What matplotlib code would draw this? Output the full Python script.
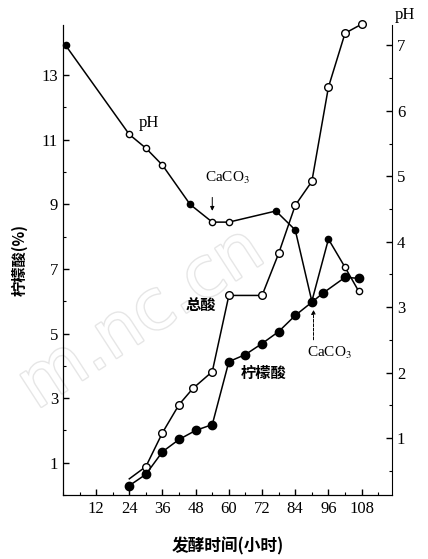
import matplotlib.pyplot as plt
import matplotlib.patheffects as pe
from matplotlib.ticker import MultipleLocator

plt.rcParams['font.family'] = ['Liberation Serif', 'Noto Sans CJK SC', 'DejaVu Sans']
plt.rcParams['mathtext.fontset'] = 'stix'

CJK = ['Noto Sans CJK SC', 'DejaVu Sans']

# total acid (%), open circles; first point is the line start without a marker
acid_t = [24, 30, 36, 42, 47, 54, 60, 72, 78, 84, 90, 96, 102, 108]
acid_v = [0.5, 0.88, 1.93, 2.80, 3.30, 3.82, 6.18, 6.18, 7.48, 8.97, 9.71, 12.63, 14.30, 14.58]

# citric acid (%), filled circles
citric_t = [24, 30, 36, 42, 48, 54, 60, 66, 72, 78, 84, 90, 94, 102, 107]
citric_v = [0.29, 0.64, 1.34, 1.72, 2.0, 2.18, 4.13, 4.35, 4.69, 5.06, 5.56, 5.97, 6.25, 6.74, 6.71]

# pH, mixed markers
ph_t = [1, 24, 30, 36, 46, 54, 60, 77, 84, 90, 96, 102, 107]
ph_v = [7.0, 5.64, 5.43, 5.17, 4.57, 4.30, 4.30, 4.47, 4.18, 3.09, 4.04, 3.61, 3.24]
ph_filled = [True, False, False, False, True, False, False, True, True, True, True, False, False]

fig = plt.figure(figsize=(4.28, 5.59), dpi=100)
ax = fig.add_axes([0.147, 0.1145, 0.769, 0.8405])
ax2 = ax.twinx()

ax.set_xlim(0, 119)
ax.set_ylim(0, 14.55)
ax2.set_ylim(0.13, 7.31)

# faint watermark behind everything
fig.text(0.33, 0.43, 'm.nc.cn', fontsize=50, rotation=33, ha='center', va='center',
         color='white', family='DejaVu Sans', zorder=-5,
         path_effects=[pe.withStroke(linewidth=2, foreground='#e6e6e6')])

# total acid
ax.plot(acid_t, acid_v, color='black', lw=1.1, zorder=3)
ax.plot(acid_t[1:], acid_v[1:], ls='none', marker='o', ms=5.5, mfc='white',
        mec='black', mew=1.0, zorder=4, clip_on=False)

# citric acid
ax.plot(citric_t, citric_v, color='black', lw=1.1, marker='o', ms=6, mfc='black',
        mec='black', zorder=4)

# pH
ax2.plot(ph_t, ph_v, color='black', lw=1.1, zorder=3)
for t, v, f in zip(ph_t, ph_v, ph_filled):
    ax2.plot(t, v, marker='o', ms=4.5, mfc='black' if f else 'white', mec='black',
             mew=1.0, zorder=4, clip_on=False)

# ticks
ax.set_xticks(range(12, 109, 12))
ax.xaxis.set_minor_locator(MultipleLocator(6))
ax.set_yticks(range(1, 14, 2))
ax.yaxis.set_minor_locator(MultipleLocator(1))
ax2.set_yticks(range(1, 8))
ax2.yaxis.set_minor_locator(MultipleLocator(0.5))
ax.tick_params(axis='both', which='major', direction='in', length=4, labelsize=12, width=1)
ax.tick_params(axis='both', which='minor', direction='in', length=2.5, width=0.8)
ax2.tick_params(axis='y', which='major', direction='in', length=4, labelsize=12, width=1)
ax2.tick_params(axis='y', which='minor', direction='in', length=2.5, width=0.8)
ax.tick_params(axis='x', pad=4)

for a in (ax, ax2):
    a.spines['top'].set_visible(False)
    a.patch.set_visible(False)
ax.spines['right'].set_visible(False)

ax.set_xlabel('发酵时间(小时)', family=CJK, fontsize=12, fontweight='bold', labelpad=15)
ax.set_ylabel('柠檬酸(%)', family=CJK, fontsize=11, fontweight='bold', labelpad=10)
ax2.text(1.009, 1.021, 'pH', transform=ax2.transAxes, fontsize=12, ha='left', va='center')

# annotations
ax2.text(31.2, 5.81, 'pH', fontsize=12, ha='center', va='center')
ax2.text(59.5, 4.97, 'CaCO$_3$', fontsize=11, ha='center', va='center')
ax2.annotate('', xy=(54, 4.43), xytext=(54, 4.72),
             arrowprops=dict(arrowstyle='-|>', lw=0.7, color='black', mutation_scale=6))
ax.text(50, 5.87, '总酸', family=CJK, fontsize=11, fontweight='bold', ha='center', va='center')
ax.text(72.5, 3.77, '柠檬酸', family=CJK, fontsize=11, fontweight='bold', ha='center', va='center')
ax.text(96.5, 4.41, 'CaCO$_3$', fontsize=11, ha='center', va='center')
ax.annotate('', xy=(90.6, 5.82), xytext=(90.6, 4.72),
            arrowprops=dict(arrowstyle='-|>', lw=0.7, color='black', mutation_scale=6,
                            linestyle=(0, (3, 1.5))))

fig.savefig('out.png', dpi=100)
